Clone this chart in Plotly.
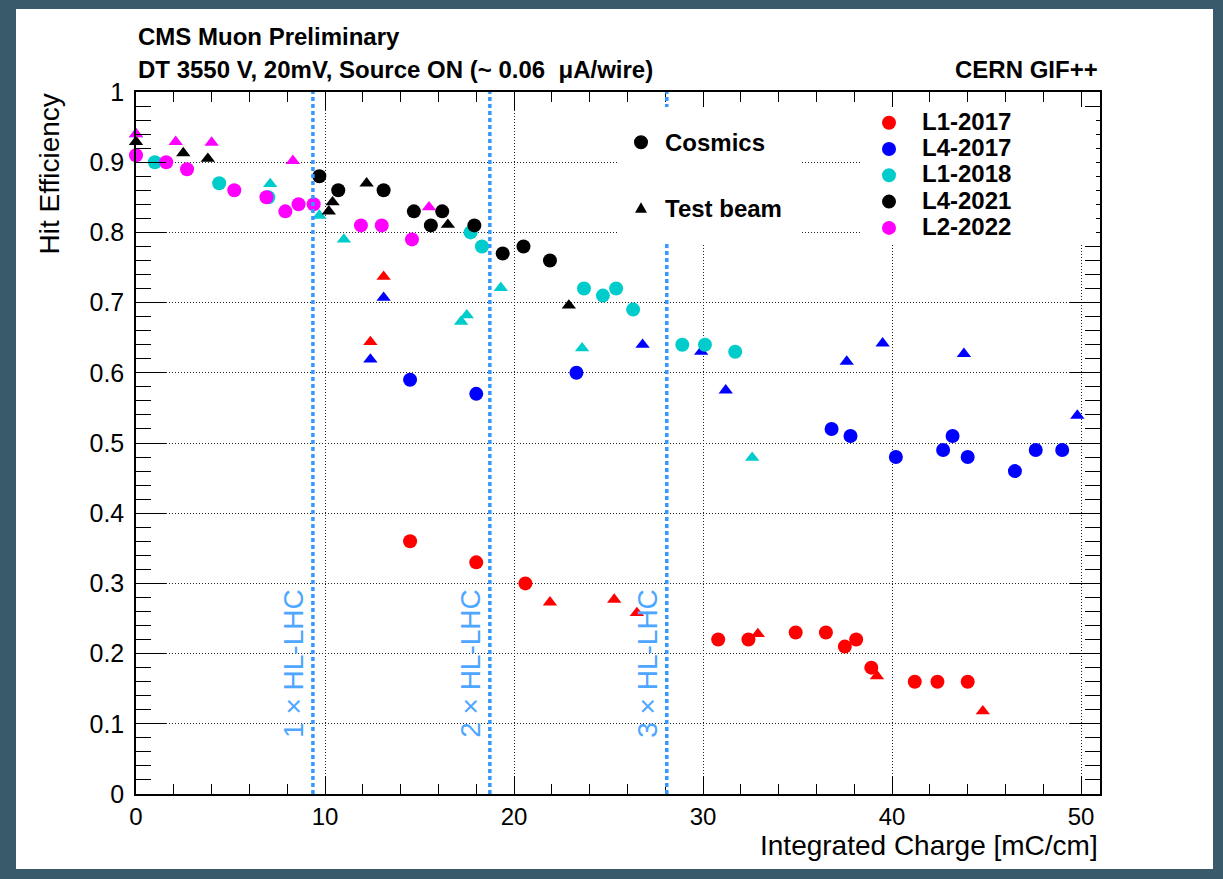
import plotly.graph_objects as go

# ---------------- data ----------------
series_names = ["L1-2017", "L4-2017", "L1-2018", "L4-2021", "L2-2022"]
series_colors = ["#ff0000", "#0000ff", "#00cccc", "#000000", "#ff00ff"]

l1_2017_cos_x = [14.5, 18.0, 20.6, 30.8, 32.4, 34.9, 36.5, 37.5, 38.1, 38.9, 41.2, 42.4, 44.0]
l1_2017_cos_y = [0.36, 0.33, 0.30, 0.22, 0.22, 0.23, 0.23, 0.21, 0.22, 0.18, 0.16, 0.16, 0.16]
l1_2017_tb_x = [12.4, 13.1, 21.9, 25.3, 26.5, 32.9, 39.2, 44.8]
l1_2017_tb_y = [0.644, 0.737, 0.273, 0.277, 0.258, 0.228, 0.168, 0.118]

l4_2017_cos_x = [14.5, 18.0, 23.3, 36.8, 37.8, 40.2, 42.7, 43.2, 44.0, 46.5, 47.6, 49.0]
l4_2017_cos_y = [0.59, 0.57, 0.60, 0.52, 0.51, 0.48, 0.49, 0.51, 0.48, 0.46, 0.49, 0.49]
l4_2017_tb_x = [12.4, 13.1, 26.8, 29.9, 31.2, 37.6, 39.5, 43.8, 49.8]
l4_2017_tb_y = [0.619, 0.707, 0.640, 0.630, 0.575, 0.616, 0.642, 0.627, 0.539]

l1_2018_cos_x = [1.0, 4.4, 7.0, 17.7, 18.3, 23.7, 24.7, 25.4, 26.3, 28.9, 30.1, 31.7]
l1_2018_cos_y = [0.90, 0.87, 0.85, 0.80, 0.78, 0.72, 0.71, 0.72, 0.69, 0.64, 0.64, 0.63]
l1_2018_tb_x = [0.0, 7.1, 9.7, 11.0, 17.2, 17.5, 19.3, 23.6, 32.6]
l1_2018_tb_y = [0.94, 0.869, 0.824, 0.79, 0.673, 0.682, 0.721, 0.635, 0.479]

l4_2021_cos_x = [9.7, 10.7, 13.1, 14.7, 15.6, 16.2, 17.9, 19.4, 20.5, 21.9]
l4_2021_cos_y = [0.88, 0.86, 0.86, 0.83, 0.81, 0.83, 0.81, 0.77, 0.78, 0.76]
l4_2021_tb_x = [0.0, 2.5, 3.8, 10.2, 10.4, 12.2, 16.5, 22.9]
l4_2021_tb_y = [0.929, 0.913, 0.905, 0.830, 0.843, 0.870, 0.811, 0.696]

l2_2022_cos_x = [0.0, 1.6, 2.7, 5.2, 6.9, 7.9, 8.6, 9.4, 11.9, 13.0, 14.6]
l2_2022_cos_y = [0.91, 0.90, 0.89, 0.86, 0.85, 0.83, 0.84, 0.84, 0.81, 0.81, 0.79]
l2_2022_tb_x = [0.0, 2.1, 4.0, 8.3, 15.5]
l2_2022_tb_y = [0.94, 0.929, 0.928, 0.902, 0.836]

cosmics_x = [l1_2017_cos_x, l4_2017_cos_x, l1_2018_cos_x, l4_2021_cos_x, l2_2022_cos_x]
cosmics_y = [l1_2017_cos_y, l4_2017_cos_y, l1_2018_cos_y, l4_2021_cos_y, l2_2022_cos_y]
testbeam_x = [l1_2017_tb_x, l4_2017_tb_x, l1_2018_tb_x, l4_2021_tb_x, l2_2022_tb_x]
testbeam_y = [l1_2017_tb_y, l4_2017_tb_y, l1_2018_tb_y, l4_2021_tb_y, l2_2022_tb_y]

hl_lhc_x = [9.36, 18.72, 28.08]
hl_lhc_labels = ["1 \u00d7 HL-LHC", "2 \u00d7 HL-LHC", "3 \u00d7 HL-LHC"]

x_ticks = [0, 10, 20, 30, 40, 50]
y_ticks = [0, 0.1, 0.2, 0.3, 0.4, 0.5, 0.6, 0.7, 0.8, 0.9, 1]

# ---------------- geometry helpers (layout only) ----------------
W, H = 1223, 879
ML, MR, MT, MB = 136, 123, 92, 85
PW, PH = W - ML - MR, H - MT - MB


def px2x(px):
    return (px - ML) / PW


def py2y(py):
    return (MT + PH - py) / PH


FONT = "Liberation Sans, Arial, Helvetica, sans-serif"
HL_BLUE = "#3399ff"
HL_TEXT = "#4da6ff"

fig = go.Figure()

for i, name in enumerate(series_names):
    fig.add_trace(go.Scatter(
        x=cosmics_x[i], y=cosmics_y[i], mode="markers", name=name + " cosmics",
        marker=dict(symbol="circle", size=14, color=series_colors[i], line=dict(width=0)),
        cliponaxis=False, showlegend=False))
    fig.add_trace(go.Scatter(
        x=testbeam_x[i], y=testbeam_y[i], mode="markers", name=name + " test beam",
        marker=dict(symbol="triangle-up", size=12.5, color=series_colors[i], line=dict(width=0)),
        cliponaxis=False, showlegend=False))

shapes = []
# white canvas panel over dark frame
shapes.append(dict(type="rect", xref="paper", yref="paper", layer="below",
                   x0=px2x(16), x1=px2x(1213), y0=py2y(869), y1=py2y(9),
                   fillcolor="white", line=dict(width=0)))
# strip at top hiding gridlines
shapes.append(dict(type="rect", xref="paper", yref="paper", layer="between",
                   x0=px2x(137), x1=px2x(618), y0=py2y(113), y1=py2y(93),
                   fillcolor="white", line=dict(width=0)))
# HL-LHC lines
for xv in hl_lhc_x:
    shapes.append(dict(type="line", xref="x", yref="paper", x0=xv, x1=xv, y0=0, y1=1,
                       layer="above", line=dict(color=HL_BLUE, width=3.5, dash="4px,3px")))
# legend boxes
shapes.append(dict(type="rect", xref="paper", yref="paper", layer="above",
                   x0=px2x(618), x1=px2x(800), y0=py2y(243), y1=py2y(107),
                   fillcolor="white", line=dict(width=0)))
shapes.append(dict(type="rect", xref="paper", yref="paper", layer="above",
                   x0=px2x(860), x1=px2x(1096), y0=py2y(243), y1=py2y(107),
                   fillcolor="white", line=dict(width=0)))

# legend swatches
leg2_y = [122.7, 149.0, 175.3, 201.6, 227.9]
for i, name in enumerate(series_names):
    shapes.append(dict(type="circle", xref="paper", yref="paper", layer="above",
                       xsizemode="pixel", ysizemode="pixel",
                       xanchor=px2x(889), yanchor=py2y(leg2_y[i]),
                       x0=-7, x1=7, y0=-7, y1=7,
                       fillcolor=series_colors[i], line=dict(width=0)))
shapes.append(dict(type="circle", xref="paper", yref="paper", layer="above",
                   xsizemode="pixel", ysizemode="pixel",
                   xanchor=px2x(641), yanchor=py2y(142.3),
                   x0=-7, x1=7, y0=-7, y1=7, fillcolor="black", line=dict(width=0)))
shapes.append(dict(type="path", xref="paper", yref="paper", layer="above",
                   xsizemode="pixel", ysizemode="pixel",
                   xanchor=px2x(641), yanchor=py2y(208.3),
                   path="M-6,-4.5 L6,-4.5 L0,6 Z", fillcolor="black", line=dict(width=0)))

annotations = []
annotations.append(dict(text="<b>CMS Muon Preliminary</b>", xref="paper", yref="paper",
                        x=0, y=py2y(37), xanchor="left", yanchor="middle", showarrow=False,
                        font=dict(family=FONT, size=24, color="black")))
annotations.append(dict(text="<b>DT 3550 V, 20mV, Source ON (~ 0.06  \u03bcA/wire)</b>",
                        xref="paper", yref="paper", x=0, y=py2y(69), xanchor="left",
                        yanchor="middle", showarrow=False,
                        font=dict(family=FONT, size=24, color="black")))
annotations.append(dict(text="<b>CERN GIF++</b>", xref="paper", yref="paper",
                        x=1, y=py2y(69), xanchor="right", yanchor="middle", showarrow=False,
                        font=dict(family=FONT, size=24, color="black")))
annotations.append(dict(text="Hit Efficiency", xref="paper", yref="paper",
                        x=px2x(49), y=1, xanchor="center", yanchor="top", textangle=-90,
                        showarrow=False, font=dict(family=FONT, size=28, color="black")))
annotations.append(dict(text="Integrated Charge [mC/cm]", xref="paper", yref="paper",
                        x=1, y=py2y(846), xanchor="right", yanchor="middle",
                        showarrow=False, font=dict(family=FONT, size=28, color="black")))
for xv, lab in zip(hl_lhc_x, hl_lhc_labels):
    annotations.append(dict(text=lab, xref="x", yref="paper", x=xv, xshift=-20,
                            y=py2y(663), xanchor="center", yanchor="middle", textangle=-90,
                            showarrow=False, font=dict(family=FONT, size=28, color=HL_TEXT)))
for i, name in enumerate(series_names):
    annotations.append(dict(text="<b>%s</b>" % name, xref="paper", yref="paper",
                            x=px2x(920), y=py2y(leg2_y[i] - 1.5), xanchor="left",
                            yanchor="middle", showarrow=False,
                            font=dict(family=FONT, size=24, color="black")))
annotations.append(dict(text="<b>Cosmics</b>", xref="paper", yref="paper",
                        x=px2x(663), y=py2y(142.5), xanchor="left", yanchor="middle",
                        showarrow=False, font=dict(family=FONT, size=24, color="black")))
annotations.append(dict(text="<b>Test beam</b>", xref="paper", yref="paper",
                        x=px2x(663), y=py2y(208), xanchor="left", yanchor="middle",
                        showarrow=False, font=dict(family=FONT, size=24, color="black")))

grid_common = dict(showgrid=True, gridcolor="#222222", gridwidth=1, griddash="1px,2px",
                   zeroline=False, showline=True, linecolor="black", linewidth=1.5,
                   mirror="allticks", ticks="inside", tickcolor="black", tickwidth=1)

fig.update_xaxes(range=[0, 51], tickmode="array", tickvals=x_ticks,
                 ticktext=[str(v) for v in x_ticks], ticklen=18, ticklabelstandoff=0,
                 tickfont=dict(family=FONT, size=24, color="black"),
                 minor=dict(dtick=2, ticklen=10, ticks="inside", tickcolor="black",
                            showgrid=False),
                 **grid_common)
fig.update_yaxes(range=[0, 1], tickmode="array", tickvals=y_ticks,
                 ticktext=["%g" % v for v in y_ticks], ticklen=30, ticklabelstandoff=5,
                 tickfont=dict(family=FONT, size=25, color="black"),
                 minor=dict(dtick=0.02, ticklen=15, ticks="inside", tickcolor="black",
                            showgrid=False),
                 **grid_common)

fig.update_layout(width=W, height=H, margin=dict(l=ML, r=MR, t=MT, b=MB),
                  paper_bgcolor="#385a6a", plot_bgcolor="white", showlegend=False,
                  font=dict(family=FONT, color="black"),
                  shapes=shapes, annotations=annotations)

fig.write_html("out.html")
